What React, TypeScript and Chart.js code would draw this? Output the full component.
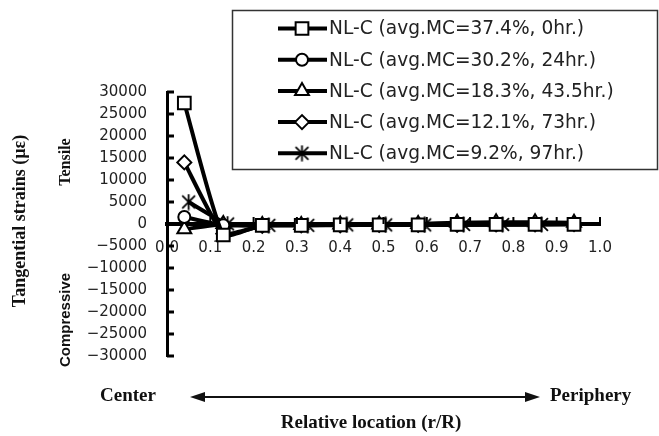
import React, { useEffect, useRef } from 'react';
import { Chart, registerables } from 'chart.js';

Chart.register(...registerables);

// ---- data ----
const xPositions = [0.04, 0.13, 0.22, 0.31, 0.4, 0.49, 0.58, 0.67, 0.76, 0.85, 0.94];
const xPositionsStar = [0.05, 0.14, 0.235, 0.325, 0.415, 0.505, 0.595, 0.685, 0.775, 0.865];

const seriesLabels = [
  'NL-C (avg.MC=37.4%, 0hr.)',
  'NL-C (avg.MC=30.2%, 24hr.)',
  'NL-C (avg.MC=18.3%, 43.5hr.)',
  'NL-C (avg.MC=12.1%, 73hr.)',
  'NL-C (avg.MC=9.2%, 97hr.)',
];

const mc374 = [27500, -2500, -300, -300, -200, -200, -200, -100, -100, -100, -100];
const mc302 = [1600, -300, -300, -200, -200, -200, -100, -100, -100, 0, 0];
const mc183 = [-1200, 0, -200, -200, -100, -100, 0, 300, 400, 400, 300];
const mc121 = [14000, -2200, -400, -300, -300, -200, -200, -200, -100, -100, 0];
const mc92 = [5000, 0, -300, -300, -200, -200, -200, -100, -100, -100];

const yMin = -30000;
const yMax = 30000;
const yStep = 5000;
const xMin = 0;
const xMax = 1;
const xStep = 0.1;

const leftTitle = 'Tangential strains (\u00b5\u03b5)';
const tensileLabel = 'Tensile';
const compressiveLabel = 'Compressive';
const centerLabel = 'Center';
const peripheryLabel = 'Periphery';
const bottomTitle = 'Relative location (r/R)';

function makeAsterisk(size: number): HTMLCanvasElement {
  const c = document.createElement('canvas');
  c.width = size;
  c.height = size;
  const g = c.getContext('2d')!;
  g.strokeStyle = '#000';
  g.lineWidth = 1.8;
  g.lineCap = 'butt';
  const m = size / 2;
  const r = size / 2 - 0.5;
  const d = r * 0.8;
  g.beginPath();
  g.moveTo(m, m - r);
  g.lineTo(m, m + r);
  g.moveTo(m - d, m - d);
  g.lineTo(m + d, m + d);
  g.moveTo(m + d, m - d);
  g.lineTo(m - d, m + d);
  g.stroke();
  return c;
}

function drawMarker(ctx: CanvasRenderingContext2D, style: any, x: number, y: number, r: number) {
  ctx.save();
  ctx.fillStyle = '#fff';
  ctx.strokeStyle = '#000';
  ctx.lineWidth = 2;
  if (style instanceof HTMLCanvasElement) {
    ctx.drawImage(style, x - style.width / 2, y - style.height / 2);
    ctx.restore();
    return;
  }
  ctx.beginPath();
  if (style === 'rect') {
    const s = Math.SQRT1_2 * r;
    ctx.rect(x - s, y - s, 2 * s, 2 * s);
  } else if (style === 'circle') {
    ctx.arc(x, y, r, 0, Math.PI * 2);
  } else if (style === 'triangle') {
    let a = 0;
    ctx.moveTo(x + Math.sin(a) * r, y - Math.cos(a) * r);
    a += (2 * Math.PI) / 3;
    ctx.lineTo(x + Math.sin(a) * r, y - Math.cos(a) * r);
    a += (2 * Math.PI) / 3;
    ctx.lineTo(x + Math.sin(a) * r, y - Math.cos(a) * r);
    ctx.closePath();
  } else if (style === 'rectRot') {
    ctx.moveTo(x - r, y);
    ctx.lineTo(x, y - r);
    ctx.lineTo(x + r, y);
    ctx.lineTo(x, y + r);
    ctx.closePath();
  }
  ctx.fill();
  ctx.stroke();
  ctx.restore();
}

const decorPlugin = {
  id: 'decor',
  afterDraw(chart: any) {
    const ctx: CanvasRenderingContext2D = chart.ctx;
    const xs = chart.scales.x;
    const ys = chart.scales.y;
    const area = chart.chartArea;
    ctx.save();
    // inward tick marks on y axis
    ctx.strokeStyle = '#000';
    ctx.lineWidth = 3;
    ys.ticks.forEach((t: any) => {
      const py = ys.getPixelForValue(t.value);
      ctx.beginPath();
      ctx.moveTo(area.left, py);
      ctx.lineTo(area.left + 7, py);
      ctx.stroke();
    });
    // small upward ticks on x axis
    const y0 = ys.getPixelForValue(0);
    ctx.lineWidth = 2;
    xs.ticks.forEach((t: any) => {
      const px = xs.getPixelForValue(t.value);
      ctx.beginPath();
      ctx.moveTo(px, y0);
      ctx.lineTo(px, y0 - 7);
      ctx.stroke();
    });

    // left titles
    ctx.fillStyle = '#111';
    ctx.textAlign = 'center';
    ctx.textBaseline = 'middle';
    const rot = (text: string, x: number, y: number, font: string) => {
      ctx.save();
      ctx.translate(x, y);
      ctx.rotate(-Math.PI / 2);
      ctx.font = font;
      ctx.fillText(text, 0, 0);
      ctx.restore();
    };
    rot(leftTitle, 20, 221, 'bold 18px "Liberation Serif", "Times New Roman", serif');
    rot(tensileLabel, 66, 162, 'bold 16px "Liberation Serif", "Times New Roman", serif');
    rot(compressiveLabel, 66, 320, 'bold 15px "Liberation Sans", Arial, sans-serif');

    // bottom annotation
    ctx.font = 'bold 19px "Liberation Serif", "Times New Roman", serif';
    ctx.textAlign = 'left';
    ctx.fillText(centerLabel, 100, 396);
    ctx.fillText(peripheryLabel, 550, 396);
    ctx.textAlign = 'center';
    ctx.fillText(bottomTitle, 371, 423);

    // double arrow
    const ax1 = 190;
    const ax2 = 540;
    const ay = 397;
    ctx.strokeStyle = '#111';
    ctx.lineWidth = 2;
    ctx.beginPath();
    ctx.moveTo(ax1 + 10, ay);
    ctx.lineTo(ax2 - 10, ay);
    ctx.stroke();
    ctx.beginPath();
    ctx.moveTo(ax1, ay);
    ctx.lineTo(ax1 + 15, ay - 5);
    ctx.lineTo(ax1 + 15, ay + 5);
    ctx.closePath();
    ctx.fill();
    ctx.beginPath();
    ctx.moveTo(ax2, ay);
    ctx.lineTo(ax2 - 15, ay - 5);
    ctx.lineTo(ax2 - 15, ay + 5);
    ctx.closePath();
    ctx.fill();

    // legend
    ctx.fillStyle = '#fff';
    ctx.fillRect(232, 10, 426, 160);
    ctx.strokeStyle = '#333';
    ctx.lineWidth = 1.5;
    ctx.strokeRect(232.5, 10.5, 425, 159);
    ctx.font = '18.6px "DejaVu Sans", sans-serif';
    ctx.textAlign = 'left';
    ctx.textBaseline = 'middle';
    chart.data.datasets.forEach((ds: any, i: number) => {
      const ry = 28.5 + i * 31.2;
      ctx.strokeStyle = '#000';
      ctx.lineWidth = 4;
      ctx.beginPath();
      ctx.moveTo(278, ry);
      ctx.lineTo(327, ry);
      ctx.stroke();
      drawMarker(ctx, ds.pointStyle, 302, ry, ds.pointRadius);
      ctx.fillStyle = '#222';
      ctx.fillText(ds.label, 329, ry + 1);
    });
    ctx.restore();
  },
};

export default function App() {
  const ref = useRef<HTMLCanvasElement>(null);

  useEffect(() => {
    const star = makeAsterisk(17);
    const mk = (xsArr: number[], ys: number[]) => ys.map((v, i) => ({ x: xsArr[i], y: v }));
    const common = {
      borderColor: '#000',
      borderWidth: 4,
      pointBackgroundColor: '#fff',
      pointBorderColor: '#000',
      pointBorderWidth: 2,
      tension: 0.15,
      fill: false,
    };
    const chart = new Chart(ref.current!, {
      type: 'line',
      data: {
        datasets: [
          { ...common, label: seriesLabels[0], data: mk(xPositions, mc374), pointStyle: 'rect', pointRadius: 9 },
          { ...common, label: seriesLabels[1], data: mk(xPositions, mc302), pointStyle: 'circle', pointRadius: 6 },
          { ...common, label: seriesLabels[2], data: mk(xPositions, mc183), pointStyle: 'triangle', pointRadius: 8 },
          { ...common, label: seriesLabels[3], data: mk(xPositions, mc121), pointStyle: 'rectRot', pointRadius: 7 },
          { ...common, label: seriesLabels[4], data: mk(xPositionsStar, mc92), pointStyle: star as any, pointRadius: 8 },
        ] as any,
      },
      options: {
        responsive: false,
        animation: false,
        events: [],
        layout: { padding: { left: 0, top: 92, right: 59, bottom: 80 } },
        plugins: {
          legend: { display: false },
          tooltip: { enabled: false },
          title: { display: false },
        },
        scales: {
          x: {
            type: 'linear',
            min: xMin,
            max: xMax,
            position: { y: 0 } as any,
            grid: { display: false },
            border: { display: true, color: '#000', width: 4 },
            ticks: {
              stepSize: xStep,
              padding: 7,
              color: '#222',
              font: { family: '"DejaVu Sans", sans-serif', size: 15 },
              callback: (v: any) => Number(v).toFixed(1),
            },
          },
          y: {
            type: 'linear',
            min: yMin,
            max: yMax,
            grid: { display: false },
            border: { display: true, color: '#000', width: 3 },
            ticks: {
              stepSize: yStep,
              padding: 12,
              color: '#222',
              font: { family: '"DejaVu Sans", sans-serif', size: 15 },
              callback: (v: any) => (Number(v) < 0 ? '\u2212' + Math.abs(Number(v)) : String(v)),
            },
            afterFit: (s: any) => {
              s.width = 167;
            },
          },
        },
      },
      plugins: [decorPlugin],
    });
    return () => chart.destroy();
  }, []);

  return (
    <div style={{ position: 'absolute', left: 0, top: 0, width: 659, height: 436, background: '#fff' }}>
      <canvas ref={ref} width={659} height={436} style={{ display: 'block' }} />
    </div>
  );
}
